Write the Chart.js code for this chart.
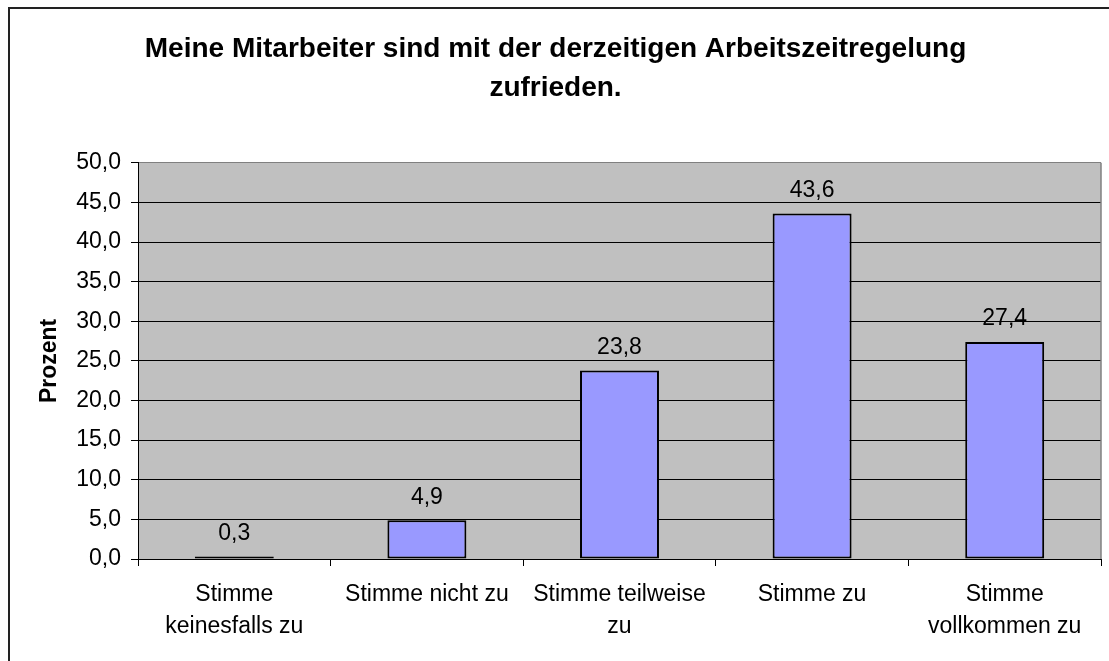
<!DOCTYPE html>
<html>
<head>
<meta charset="utf-8">
<script src="https://cdn.jsdelivr.net/npm/chart.js@4.4.1/dist/chart.umd.min.js"></script>
<style>
  html, body { margin: 0; padding: 0; background: #fff; }
  #wrap { position: relative; width: 1109px; height: 661px; }
  #frame { position: absolute; left: 8px; top: 7px; right: -4px; bottom: -4px; border: 2px solid #222; }
  #myChart { position: absolute; left: 0; top: 0; }
</style>
</head>
<body>
<div id="wrap">
  <div id="frame"></div>
  <canvas id="myChart" width="1109" height="661"></canvas>
</div>
<script>
// data
var categories = [
    ['Stimme', 'keinesfalls zu'],
    'Stimme nicht zu',
    ['Stimme teilweise', 'zu'],
    'Stimme zu',
    ['Stimme', 'vollkommen zu']
]
var prozent = [0.3, 4.9, 23.8, 43.6, 27.4]
var titleLines = ['Meine Mitarbeiter sind mit der derzeitigen Arbeitszeitregelung', 'zufrieden.']
var yTitle = 'Prozent'

function komma(v) {
    return Number(v).toFixed(1).replace('.', ',')
}

// grey plot area + darker right edge
const plotArea = {
    id: 'plotArea',
    beforeDraw(chart) {
        const {ctx, chartArea: a} = chart
        ctx.save()
        ctx.fillStyle = '#C0C0C0'
        ctx.fillRect(a.left, a.top, a.right - a.left, a.bottom - a.top)
        ctx.restore()
    },
    afterDraw(chart) {
        const {ctx, chartArea: a} = chart
        ctx.save()
        ctx.strokeStyle = '#808080'
        ctx.lineWidth = 1.5
        ctx.beginPath()
        ctx.moveTo(a.right, a.top)
        ctx.lineTo(a.right, a.bottom)
        ctx.stroke()
        ctx.restore()
    }
}

// value labels above the bars
const valueLabels = {
    id: 'valueLabels',
    afterDatasetsDraw(chart) {
        const ctx = chart.ctx
        const meta = chart.getDatasetMeta(0)
        ctx.save()
        ctx.font = '23px "Liberation Sans", Arial, sans-serif'
        ctx.fillStyle = '#000'
        ctx.textAlign = 'center'
        ctx.textBaseline = 'middle'
        meta.data.forEach(function(bar, i) {
            ctx.fillText(komma(chart.data.datasets[0].data[i]), bar.x, bar.y - 23)
        })
        ctx.restore()
    }
}

const ctx = document.getElementById('myChart').getContext('2d')
const myChart = new Chart(ctx, {
    type: 'bar',
    data: {
        labels: categories,
        datasets: [{
            label: yTitle,
            data: prozent,
            backgroundColor: '#9999FF',
            borderColor: '#000',
            borderWidth: 2,
            borderSkipped: false,
            categoryPercentage: 1.0,
            barPercentage: 0.41,
        }]
    },
    options: {
        responsive: false,
        animation: false,
        layout: {
            padding: {left: 10, right: 8, top: 0, bottom: 0}
        },
        scales: {
            x: {
                grid: {
                    offset: true,
                    drawOnChartArea: false,
                    color: '#000',
                    tickLength: 7,
                },
                border: {color: '#000', width: 1},
                ticks: {
                    color: '#000',
                    padding: 13,
                    maxRotation: 0,
                    autoSkip: false,
                    font: {family: '"Liberation Sans", Arial, sans-serif', size: 23, lineHeight: 1.38},
                },
                afterFit: function(s) { s.height = 102 },
            },
            y: {
                min: 0,
                max: 50,
                ticks: {
                    stepSize: 5,
                    color: '#000',
                    padding: 10,
                    font: {family: '"Liberation Sans", Arial, sans-serif', size: 23},
                    callback: function(v) { return komma(v) },
                },
                grid: {
                    color: function(c) { return c.tick && c.tick.value === 50 ? '#808080' : '#000' },
                    tickColor: '#000',
                    tickLength: 7,
                    lineWidth: 1,
                },
                border: {color: '#000', width: 1},
                title: {
                    display: true,
                    text: yTitle,
                    color: '#000',
                    padding: {top: 26, bottom: 0},
                    font: {family: '"Liberation Sans", Arial, sans-serif', size: 23, weight: 'bold'},
                },
                afterFit: function(s) { s.width = 128 },
            },
        },
        plugins: {
            legend: {display: false},
            tooltip: {enabled: false},
            title: {
                display: true,
                text: titleLines,
                color: '#000',
                padding: {top: 30, bottom: 55},
                font: {family: '"Liberation Sans", Arial, sans-serif', size: 28, weight: 'bold', lineHeight: 1.39},
            },
        }
    },
    plugins: [plotArea, valueLabels]
})
</script>
</body>
</html>
